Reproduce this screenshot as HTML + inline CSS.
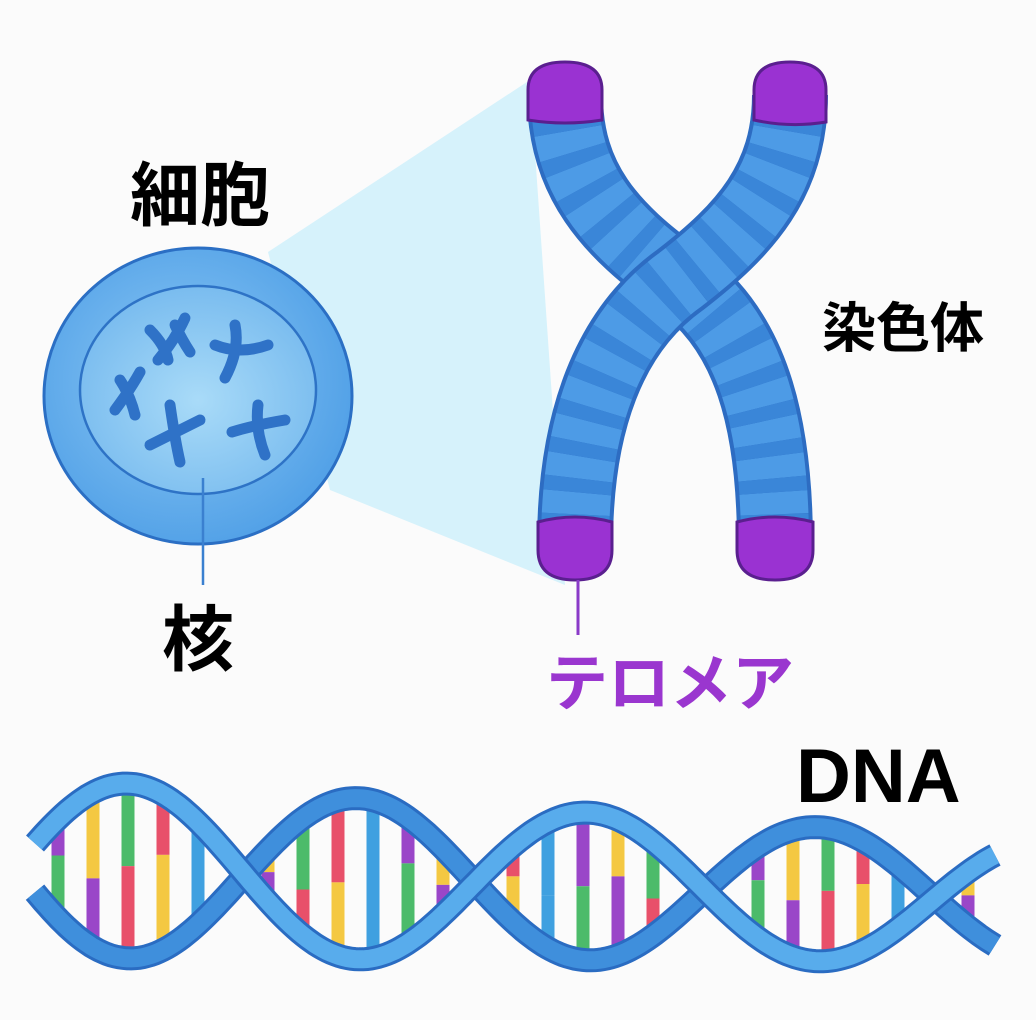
<!DOCTYPE html>
<html><head><meta charset="utf-8">
<style>
html,body{margin:0;padding:0;background:#fbfbfb;}
svg{display:block}
text{font-family:"Liberation Sans","Noto Sans CJK JP",sans-serif;font-weight:bold}
</style></head>
<body>
<svg id="s" width="1036" height="1020" viewBox="0 0 1036 1020" xmlns="http://www.w3.org/2000/svg">
<defs>
<radialGradient id="cg" cx="0.45" cy="0.45" r="0.6">
<stop offset="0" stop-color="#8cc8f5"/><stop offset="1" stop-color="#4f9fe6"/></radialGradient>
<radialGradient id="ng" cx="0.5" cy="0.55" r="0.6">
<stop offset="0" stop-color="#a9dbf8"/><stop offset="1" stop-color="#75b9ee"/></radialGradient>
</defs>
<polygon points="268,252 530,80 565,585 330,490" fill="#d6f2fb"/>
<ellipse cx="198" cy="396" rx="154" ry="148" fill="url(#cg)" stroke="#2b6fc4" stroke-width="3"/>
<ellipse cx="198" cy="390" rx="118" ry="104" fill="url(#ng)" stroke="#2e73c6" stroke-width="2.5"/>
<g stroke="#2f72c7" stroke-width="11" stroke-linecap="round" fill="none">
<path d="M150 330 Q165 345 168 360 M185 318 Q175 340 158 360 M175 325 Q182 340 190 352"/>
<path d="M235 325 Q240 350 225 378 M215 345 Q240 355 268 345"/>
<path d="M115 410 Q130 390 140 372 M120 380 Q130 395 135 415"/>
<path d="M150 445 Q180 430 200 420 M170 405 Q175 440 180 462"/>
<path d="M232 432 Q255 425 285 420 M258 405 Q255 430 265 455"/>
</g>
<line x1="203" y1="478" x2="203" y2="585" stroke="#3a80d0" stroke-width="2.5"/>
<text x="130" y="220" font-size="70">細胞</text>
<text x="162" y="665" font-size="72">核</text>
<g fill="none" stroke-linecap="butt">
<path d="M565 95 C565 180 610 230 680 280 C750 330 775 420 775 545" stroke="#2d6cc2" stroke-width="76"/>
<path d="M565 95 C565 180 610 230 680 280 C750 330 775 420 775 545" stroke="#4d9be6" stroke-width="68" stroke-dasharray="22 14"/>
<path d="M565 95 C565 180 610 230 680 280 C750 330 775 420 775 545" stroke="#3a86d8" stroke-width="68" stroke-dasharray="14 22" stroke-dashoffset="-22"/>
<path d="M790 95 C790 180 745 230 680 280 C610 330 575 420 575 545" stroke="#2d6cc2" stroke-width="76"/>
<path d="M790 95 C790 180 745 230 680 280 C610 330 575 420 575 545" stroke="#4d9be6" stroke-width="68" stroke-dasharray="22 14"/>
<path d="M790 95 C790 180 745 230 680 280 C610 330 575 420 575 545" stroke="#3a86d8" stroke-width="68" stroke-dasharray="14 22" stroke-dashoffset="-22"/>
</g>
<g fill="#9a32d2" stroke="#5a1f8f" stroke-width="3">
<path d="M528 120 L528 90 Q528 62 565 62 Q602 62 602 90 L602 120 Q565 126 528 120Z"/>
<path d="M754 120 L754 90 Q754 62 790 62 Q826 62 826 90 L826 122 Q790 128 754 120Z"/>
<path d="M538 522 Q575 512 612 522 L612 550 Q612 580 575 580 Q538 580 538 550Z"/>
<path d="M737 522 Q775 512 813 522 L813 550 Q813 580 775 580 Q737 580 737 550Z"/>
</g>
<line x1="578" y1="580" x2="578" y2="635" stroke="#8a3ac8" stroke-width="3"/>
<text x="822" y="347" font-size="54">染色体</text>
<text x="546" y="705" font-size="62" fill="#9a36cf">テロメア</text>
<text x="796" y="802" font-size="76">DNA</text>
<g id="dna"></g>
</svg>
<script>
(function(){
var g=document.getElementById('dna');
function t(x){return (x-40)/950;}
function C(x){return 868+32*t(x);}
function M(x){return 90-28*t(x);}
function w(x){return Math.cos(2*Math.PI*(x-130)/460);}
function A(x){return C(x)-M(x)*w(x);}
function B(x){return C(x)+M(x)*w(x);}
var cols=['#9a46c8','#f4c842','#4cbb6a','#e8506a','#3fa0e0'],h='';
var k=0;
for(var x=58;x<985;x+=35){
 var y1=A(x),y2=B(x);if(Math.abs(y1-y2)<40){k++;continue;}
 var tp=Math.min(y1,y2)+6,b=Math.max(y1,y2)-6,m=tp+(b-tp)*(0.35+0.3*((k*37)%10)/10);
 h+='<line x1="'+x+'" y1="'+tp+'" x2="'+x+'" y2="'+m+'" stroke="'+cols[k%5]+'" stroke-width="13"/>';
 h+='<line x1="'+x+'" y1="'+m+'" x2="'+x+'" y2="'+b+'" stroke="'+cols[(k*3+2)%5]+'" stroke-width="13"/>';k++;
}
function path(f){var d='';for(var x=35;x<=995;x+=4){d+=(x==35?'M':'L')+x+' '+f(x).toFixed(1);}return d;}
h+='<path d="'+path(B)+'" fill="none" stroke="#2a6cc2" stroke-width="24"/>';
h+='<path d="'+path(B)+'" fill="none" stroke="#3f8fdc" stroke-width="18"/>';
h+='<path d="'+path(A)+'" fill="none" stroke="#2a6cc2" stroke-width="24"/>';
h+='<path d="'+path(A)+'" fill="none" stroke="#58acec" stroke-width="18"/>';
g.innerHTML=h;
})();
</script>
</body></html>
